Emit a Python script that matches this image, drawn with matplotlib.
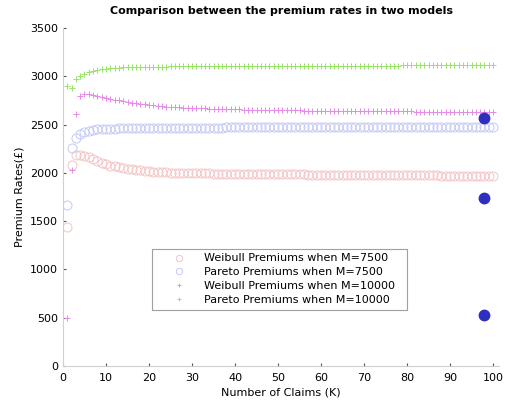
import matplotlib
matplotlib.use("Agg")
import matplotlib.pyplot as plt
import numpy as np

# number of claims K
K = list(range(1, 101))

weibull_7500 = [1440, 2080, 2180, 2185, 2175, 2160, 2140, 2120, 2102, 2088,
                2076, 2066, 2057, 2049, 2042, 2036, 2031, 2026, 2021, 2017,
                2013, 2010, 2008, 2005, 2003, 2001, 2000, 1999, 1998, 1997,
                1996, 1995, 1995, 1994, 1993, 1993, 1992, 1991, 1991, 1990,
                1990, 1989, 1989, 1988, 1988, 1987, 1987, 1986, 1986, 1985,
                1985, 1984, 1984, 1983, 1983, 1983, 1982, 1982, 1981, 1981,
                1981, 1980, 1980, 1980, 1979, 1979, 1979, 1978, 1978, 1978,
                1977, 1977, 1977, 1976, 1976, 1976, 1975, 1975, 1975, 1975,
                1974, 1974, 1974, 1973, 1973, 1973, 1973, 1972, 1972, 1972,
                1972, 1971, 1971, 1971, 1971, 1970, 1970, 1970, 1970, 1969]

pareto_7500 = [1670, 2260, 2360, 2405, 2425, 2438, 2445, 2450, 2453, 2456,
               2458, 2459, 2460, 2461, 2462, 2462, 2463, 2463, 2464, 2464,
               2465, 2465, 2465, 2466, 2466, 2466, 2467, 2467, 2467, 2468,
               2468, 2468, 2468, 2469, 2469, 2469, 2469, 2470, 2470, 2470,
               2470, 2471, 2471, 2471, 2471, 2471, 2472, 2472, 2472, 2472,
               2472, 2473, 2473, 2473, 2473, 2473, 2473, 2474, 2474, 2474,
               2474, 2474, 2474, 2475, 2475, 2475, 2475, 2475, 2475, 2475,
               2476, 2476, 2476, 2476, 2476, 2476, 2476, 2476, 2477, 2477,
               2477, 2477, 2477, 2477, 2477, 2477, 2477, 2478, 2478, 2478,
               2478, 2478, 2478, 2478, 2478, 2478, 2478, 2479, 2479, 2479]

weibull_10000 = [500, 2030, 2610, 2800, 2820, 2815, 2805, 2795, 2785, 2775,
                 2765, 2757, 2750, 2742, 2735, 2728, 2722, 2716, 2710, 2705,
                 2700, 2695, 2691, 2687, 2684, 2681, 2678, 2676, 2674, 2672,
                 2670, 2668, 2667, 2665, 2664, 2663, 2661, 2660, 2659, 2658,
                 2657, 2656, 2655, 2654, 2653, 2652, 2651, 2651, 2650, 2649,
                 2648, 2648, 2647, 2646, 2646, 2645, 2645, 2644, 2644, 2643,
                 2643, 2642, 2642, 2641, 2641, 2640, 2640, 2640, 2639, 2639,
                 2639, 2638, 2638, 2638, 2637, 2637, 2637, 2636, 2636, 2636,
                 2636, 2635, 2635, 2635, 2635, 2634, 2634, 2634, 2634, 2633,
                 2633, 2633, 2633, 2632, 2632, 2632, 2632, 2631, 2631, 2631]

pareto_10000 = [2900, 2880, 2970, 3000, 3025, 3045, 3058, 3068, 3075, 3080,
                3084, 3087, 3090, 3092, 3094, 3095, 3096, 3097, 3098, 3099,
                3100, 3100, 3101, 3101, 3102, 3102, 3102, 3103, 3103, 3103,
                3104, 3104, 3104, 3104, 3105, 3105, 3105, 3105, 3106, 3106,
                3106, 3106, 3106, 3107, 3107, 3107, 3107, 3107, 3108, 3108,
                3108, 3108, 3108, 3108, 3109, 3109, 3109, 3109, 3109, 3109,
                3109, 3110, 3110, 3110, 3110, 3110, 3110, 3110, 3110, 3111,
                3111, 3111, 3111, 3111, 3111, 3111, 3111, 3111, 3112, 3112,
                3112, 3112, 3112, 3112, 3112, 3112, 3112, 3112, 3113, 3113,
                3113, 3113, 3113, 3113, 3113, 3113, 3113, 3113, 3114, 3114]

# highlighted points (blue dots near K=98)
dot_k = [98, 98, 98]
dot_val = [2570, 1740, 530]

fig = plt.figure(figsize=(5.06, 4.0), dpi=100)
ax = fig.add_axes([0.1245, 0.085, 0.8626, 0.845])

ax.plot(K, weibull_7500, "o", mfc="none", mec="#f4c4c4", ms=6.5, mew=0.7,
        label="Weibull Premiums when M=7500")
ax.plot(K, pareto_7500, "o", mfc="none", mec="#c4c8f4", ms=6.5, mew=0.7,
        label="Pareto Premiums when M=7500")
ax.plot(K, weibull_10000, "+", color="#e58ae8", ms=4.5, mew=0.7,
        label="Weibull Premiums when M=10000")
ax.plot(K, pareto_10000, "+", color="#98e468", ms=4.5, mew=0.7,
        label="Pareto Premiums when M=10000")
ax.plot(dot_k, dot_val, "o", color="#2f2fbf", ms=7.5, zorder=5)

ax.set_xlim(0, 101.5)
ax.set_ylim(0, 3500)
ax.set_xticks(range(0, 101, 10))
ax.set_yticks(range(0, 3501, 500))
for s in ("top", "right"):
    ax.spines[s].set_visible(False)
for s in ("left", "bottom"):
    ax.spines[s].set_color("#d0d0d0")
ax.tick_params(direction="in", length=2, color="#555555", labelsize=8)
ax.tick_params(axis="x", pad=5)

ax.set_title("Comparison between the premium rates in two models",
             fontsize=8, fontweight="bold", pad=10)
ax.set_xlabel("Number of Claims (K)", fontsize=8, labelpad=3)
ax.set_ylabel("Premium Rates(\u00a3)", fontsize=8)

leg = ax.legend(loc="upper left", bbox_to_anchor=(0.204, 0.115, 0.584, 0.231),
                mode="expand", fontsize=8, frameon=True, fancybox=False,
                borderaxespad=0, handlelength=4.0, handletextpad=0.3,
                labelspacing=0.35, markerscale=0.7)
leg.get_frame().set_edgecolor("#888888")
leg.get_frame().set_linewidth(0.8)

fig.savefig("out.png", dpi=100)
